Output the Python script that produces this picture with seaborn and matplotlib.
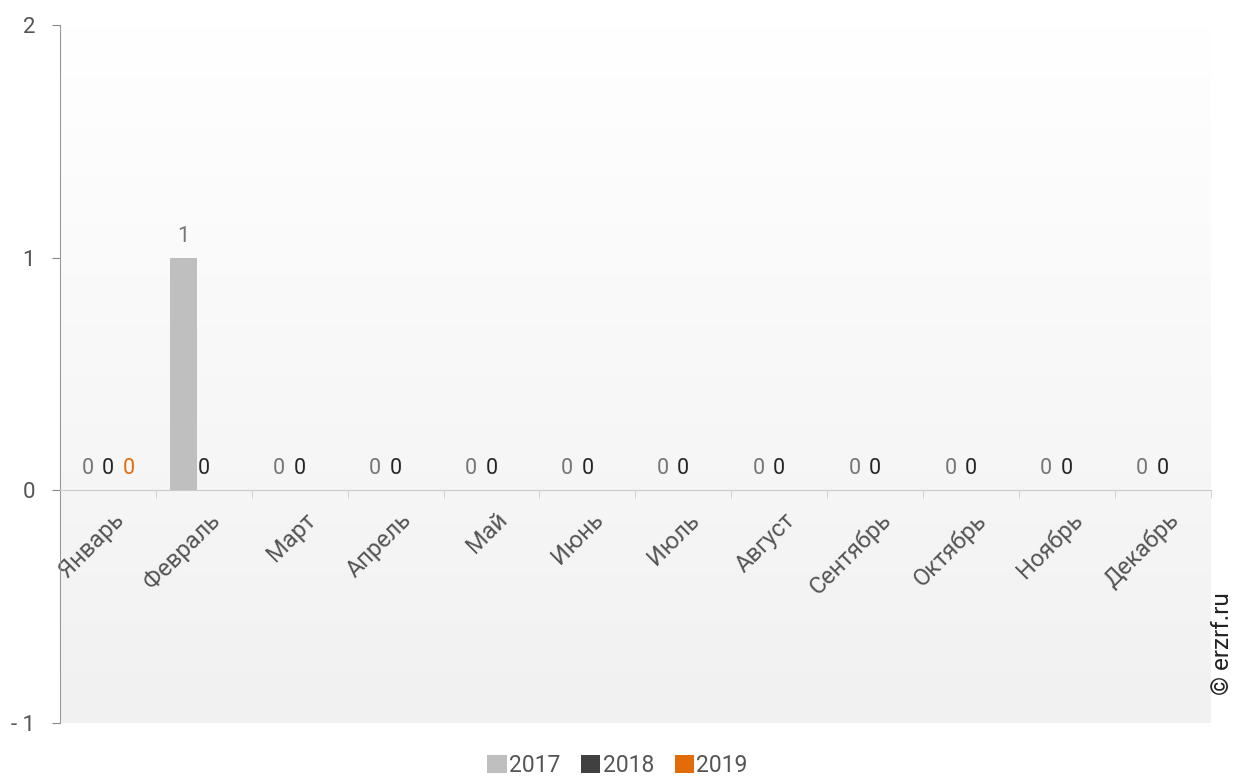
import numpy as np
import pandas as pd
import seaborn as sns
import matplotlib.pyplot as plt
import matplotlib.transforms as mtransforms
from matplotlib.patches import Patch
from matplotlib.colors import LinearSegmentedColormap

months = ["Январь", "Февраль", "Март", "Апрель", "Май", "Июнь",
          "Июль", "Август", "Сентябрь", "Октябрь", "Ноябрь", "Декабрь"]
years = ["2017", "2018", "2019"]
v2017 = [0, 1, 0, 0, 0, 0, 0, 0, 0, 0, 0, 0]
v2018 = [0, 0, 0, 0, 0, 0, 0, 0, 0, 0, 0, 0]
v2019 = [0] + [np.nan] * 11

bar_colors = ["#bfbfbf", "#404040", "#e36c0a"]
label_colors = ["#767676", "#262626", "#e36c0a"]

df = pd.DataFrame({"Месяц": months, "2017": v2017, "2018": v2018, "2019": v2019})
df = df.melt(id_vars="Месяц", var_name="Год", value_name="Значение").dropna()

sns.set_style("white")
plt.rcParams["font.family"] = ["Roboto", "DejaVu Sans"]

fig = plt.figure(figsize=(12.35, 7.83), dpi=100)
ax = fig.add_axes([0.0486, 0.0766, 0.9316, 0.8914])

# gradient background
grad = np.linspace(0, 1, 512).reshape(-1, 1)
cmap = LinearSegmentedColormap.from_list("bg", ["#ffffff", "#f1f1f1"])
ax.imshow(grad, extent=(-0.5, 11.5, -1, 2), aspect="auto", cmap=cmap,
          origin="upper", interpolation="bilinear", zorder=0)

sns.barplot(data=df, x="Месяц", y="Значение", hue="Год", order=months,
            hue_order=years, palette=bar_colors, width=0.64, ax=ax,
            legend=False, zorder=2)

# widen bars slightly around their centers
for cont in ax.containers:
    for p in cont.patches:
        c = p.get_x() + p.get_width() / 2
        p.set_width(0.28)
        p.set_x(c - 0.14)
        p.set_edgecolor("none")

for cont, col in zip(ax.containers, label_colors):
    ax.bar_label(cont, fmt="%g", padding=8, color=col, fontsize=15.5)

ax.set_xlim(-0.5, 11.5)
ax.set_ylim(-1, 2)
ax.set_yticks([-1, 0, 1, 2])
ax.set_yticklabels(["- 1", "0", "1", "2"])
ax.tick_params(axis="y", direction="out", length=6, color="#888888",
               labelsize=16, labelcolor="#555555", pad=12, left=True)

for s in ["top", "right"]:
    ax.spines[s].set_visible(False)
ax.spines["left"].set_color("#999999")
ax.spines["bottom"].set_color("#cccccc")
ax.spines["bottom"].set_position(("data", 0))

ax.set_xticks(range(12))
ax.set_xticklabels(months, rotation=45, ha="right", rotation_mode="anchor")
ax.set_xticks(np.arange(-0.5, 12, 1), minor=True)
ax.tick_params(axis="x", which="major", length=0, labelsize=17,
               labelcolor="#555555", pad=13)
ax.tick_params(axis="x", which="minor", length=6, color="#cccccc",
               direction="out", bottom=True)
shift = mtransforms.ScaledTranslation(4 / 100, 0, fig.dpi_scale_trans)
for lbl in ax.get_xticklabels():
    lbl.set_transform(lbl.get_transform() + shift)
ax.set_xlabel("")
ax.set_ylabel("")

handles = [Patch(facecolor=c, edgecolor="none", label=y)
           for c, y in zip(bar_colors, years)]
fig.legend(handles=handles, loc="lower center", bbox_to_anchor=(0.5, -0.019),
           ncol=3, frameon=False, fontsize=16.5, handlelength=0.85,
           handleheight=0.85, handletextpad=0.1, columnspacing=0.9,
           labelcolor="#555555")

fig.text(0.9895, 0.112, "© erzrf.ru", rotation=90, fontsize=17.5,
         color="#222222", ha="center", va="bottom")

fig.savefig("out.png", dpi=100, facecolor="white")
